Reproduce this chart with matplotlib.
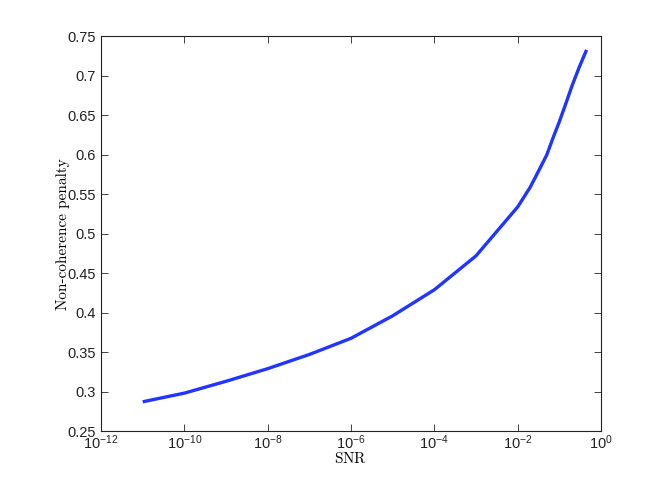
import numpy as np
import matplotlib
matplotlib.use('Agg')
from matplotlib import pyplot as plt
from matplotlib.ticker import FixedLocator, FuncFormatter, NullLocator

plt.rcParams['font.family'] = ['Liberation Sans', 'DejaVu Sans']
plt.rcParams['mathtext.fontset'] = 'cm'

# values
snr = [1e-11, 1e-10, 1e-9, 1e-8, 1e-7, 1e-6, 1e-5, 1e-4, 1e-3,
       1e-2, 2e-2, 3e-2, 5e-2, 7e-2, 1e-1, 1.5e-1, 2e-1, 3e-1, 4.5e-1]
penalty = [0.287, 0.298, 0.313, 0.329, 0.347, 0.3675, 0.396, 0.429, 0.472,
           0.534, 0.559, 0.577, 0.600, 0.621, 0.642, 0.668, 0.687, 0.711, 0.733]
xtick_pos = [1e-12, 1e-10, 1e-8, 1e-6, 1e-4, 1e-2, 1e0]
ytick_pos = [0.25, 0.3, 0.35, 0.4, 0.45, 0.5, 0.55, 0.6, 0.65, 0.7, 0.75]
ytick_lab = ['0.25', '0.3', '0.35', '0.4', '0.45', '0.5', '0.55', '0.6', '0.65', '0.7', '0.75']

fig = plt.figure(figsize=(6.66, 4.84), dpi=100)
ax = fig.add_axes([0.1517, 0.1095, 0.7507, 0.8151])

ax.plot(snr, penalty, color='#2035ff', lw=2.4, solid_capstyle='butt')

ax.set_xscale('log')
ax.set_xlim(1e-12, 1e0)
ax.set_ylim(0.25, 0.75)
ax.xaxis.set_major_locator(FixedLocator(xtick_pos))
ax.xaxis.set_minor_locator(NullLocator())
ax.xaxis.set_major_formatter(FuncFormatter(
    lambda v, p: r'$\mathregular{10^{%d}}$' % int(round(np.log10(v)))))
ax.set_yticks(ytick_pos)
ax.set_yticklabels(ytick_lab)

ax.tick_params(direction='in', length=5, width=0.6, labelsize=10.5,
               top=True, right=True, colors='#222222')
ax.tick_params(axis='x', pad=2)
for s in ax.spines.values():
    s.set_linewidth(0.8)
    s.set_color('#222222')

ax.set_xlabel(r'$\mathrm{SNR}$', fontsize=11, labelpad=-1)
ax.set_ylabel('Non-coherence penalty', family='cmr10', fontsize=11, labelpad=-2)

fig.savefig('out.png', dpi=100)
